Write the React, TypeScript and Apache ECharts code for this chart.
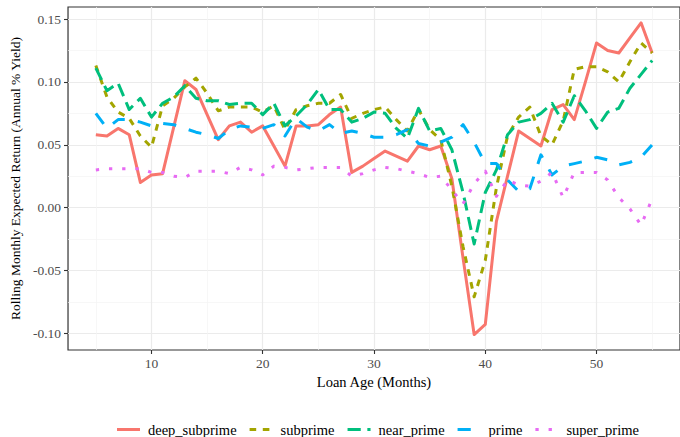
import React, { useEffect, useRef } from 'react';
import * as echarts from 'echarts';

const months = [5, 6, 7, 8, 9, 10, 11, 12, 13, 14, 15, 16, 17, 18, 19, 20, 21, 22, 23, 24, 25, 26, 27, 28, 29, 30, 31, 32, 33, 34, 35, 36, 37, 38, 39, 40, 41, 42, 43, 44, 45, 46, 47, 48, 49, 50, 51, 52, 53, 54, 55];

const deepSubprime = [0.058, 0.057, 0.063, 0.058, 0.020, 0.026, 0.027, 0.064, 0.101, 0.094, 0.074, 0.054, 0.065, 0.068, 0.060, 0.065, 0.049, 0.033, 0.065, 0.065, 0.066, 0.074, 0.080, 0.028, 0.033, 0.039, 0.045, 0.041, 0.037, 0.049, 0.046, 0.049, 0.023, -0.040, -0.101, -0.093, -0.011, 0.025, 0.061, 0.055, 0.049, 0.078, 0.082, 0.070, 0.100, 0.131, 0.125, 0.123, 0.135, 0.147, 0.123];

const subprime = [0.113, 0.088, 0.076, 0.071, 0.057, 0.048, 0.081, 0.087, 0.096, 0.103, 0.091, 0.077, 0.080, 0.080, 0.080, 0.076, 0.081, 0.062, 0.078, 0.081, 0.083, 0.083, 0.090, 0.071, 0.075, 0.078, 0.080, 0.070, 0.061, 0.078, 0.062, 0.054, 0.017, -0.031, -0.071, -0.042, 0.016, 0.057, 0.072, 0.080, 0.057, 0.050, 0.069, 0.110, 0.112, 0.112, 0.108, 0.100, 0.116, 0.131, 0.123];

const nearPrime = [0.111, 0.093, 0.099, 0.078, 0.087, 0.072, 0.083, 0.088, 0.097, 0.087, 0.085, 0.085, 0.082, 0.083, 0.083, 0.074, 0.083, 0.065, 0.073, 0.082, 0.094, 0.078, 0.078, 0.068, 0.071, 0.076, 0.075, 0.063, 0.055, 0.079, 0.061, 0.063, 0.046, 0.012, -0.029, 0.012, 0.030, 0.058, 0.068, 0.070, 0.075, 0.083, 0.068, 0.089, 0.077, 0.063, 0.076, 0.079, 0.095, 0.106, 0.117];

const prime = [0.075, 0.063, 0.070, 0.070, 0.068, 0.065, 0.067, 0.066, 0.063, 0.060, 0.058, 0.055, 0.062, 0.065, 0.064, 0.063, 0.066, 0.057, 0.071, 0.064, 0.061, 0.066, 0.059, 0.061, 0.059, 0.056, 0.056, 0.058, 0.062, 0.051, 0.049, 0.052, 0.056, 0.066, 0.052, 0.035, 0.035, 0.022, 0.013, 0.015, 0.042, 0.026, 0.033, 0.035, 0.037, 0.040, 0.038, 0.034, 0.036, 0.040, 0.050];

const superPrime = [0.030, 0.031, 0.031, 0.031, 0.031, 0.028, 0.028, 0.025, 0.024, 0.029, 0.029, 0.029, 0.027, 0.032, 0.030, 0.026, 0.033, 0.032, 0.030, 0.031, 0.032, 0.032, 0.032, 0.025, 0.027, 0.030, 0.032, 0.031, 0.029, 0.027, 0.024, 0.025, 0.014, 0.003, 0.019, 0.029, 0.009, 0.022, 0.018, 0.017, 0.021, 0.028, 0.008, 0.028, 0.028, 0.028, 0.022, 0.008, -0.001, -0.014, 0.007];

const seriesNames = ['deep_subprime', 'subprime', 'near_prime', 'prime', 'super_prime'];
const seriesValues = [deepSubprime, subprime, nearPrime, prime, superPrime];
const seriesColors = ['#F8766D', '#A3A500', '#00BF7D', '#00B0F6', '#E76BF3'];

const xMajorTicks = [10, 20, 30, 40, 50];
const xMinorTicks = [5, 15, 25, 35, 45, 55];
const yMajorTicks = [-0.1, -0.05, 0, 0.05, 0.1, 0.15];
const yMinorTicks = [-0.075, -0.025, 0.025, 0.075, 0.125];

const FONT = 'Liberation Serif';
const LW = 3;
const U = 3.3;
const dashTypes: any[] = ['solid', [2 * U, 2 * U], [4 * U, 2 * U], [4 * U, 4 * U], [1 * U, 3 * U]];
const legendIcons = [
  'path://M0,0H23V3H0Z',
  'path://M0,0H6.6V3H0Z M13.2,0H19.8V3H13.2Z M23,0L23,3',
  'path://M0,0H13.2V3H0Z M19.8,0H23V3H19.8Z',
  'path://M0,0H13.2V3H0Z M23,0L23,3',
  'path://M0,0H3.3V3H0Z M13.2,0H16.5V3H13.2Z M23,0L23,3',
];

export default function App() {
  const ref = useRef<HTMLDivElement>(null);
  useEffect(() => {
    if (!ref.current) return;
    const chart = echarts.init(ref.current, undefined, { renderer: 'svg' });
    const series = seriesNames.map((name, i) => ({
      type: 'line',
      name,
      data: months.map((m, j) => [m, seriesValues[i][j]]),
      xAxisIndex: 0,
      yAxisIndex: 0,
      showSymbol: false,
      symbol: 'none',
      itemStyle: { color: seriesColors[i] },
      lineStyle: { color: seriesColors[i], width: LW, type: dashTypes[i], cap: 'butt', join: 'round' },
      z: 3 + i,
    }));
    const tickLabel = { fontFamily: FONT, fontSize: 13.5, fontWeight: 'normal', color: '#4d4d4d' };
    chart.setOption({
      animation: false,
      backgroundColor: '#ffffff',
      textStyle: { fontFamily: FONT },
      grid: {
        left: 64,
        top: 7,
        width: 619,
        height: 343,
        show: true,
        borderColor: '#333333',
        borderWidth: 1.2,
        backgroundColor: 'transparent',
        containLabel: false,
      },
      legend: {
        data: seriesNames.map((n, i) => ({ name: n, icon: legendIcons[i] })),
        left: 112,
        top: 417,
        itemWidth: 23,
        itemHeight: 3,
        itemGap: 13,
        itemStyle: { borderWidth: 0 },
        textStyle: { fontFamily: FONT, fontSize: 14.5, color: '#000000', padding: [0, 0, 0, 3] },
        selectedMode: false,
      },
      xAxis: [
        {
          type: 'value',
          min: 2.5,
          max: 57.5,
          position: 'bottom',
          name: 'Loan Age (Months)',
          nameLocation: 'middle',
          nameGap: 22,
          nameTextStyle: { fontFamily: FONT, fontSize: 14.5, color: '#000000' },
          axisLine: { show: false, onZero: false },
          axisTick: { show: true, customValues: xMajorTicks, length: 4, lineStyle: { color: '#333333', width: 1.1 } },
          axisLabel: { customValues: xMajorTicks, margin: 6, ...tickLabel, formatter: (v: number) => String(v) },
          splitLine: { show: true, lineStyle: { color: '#ebebeb', width: 1.2 } },
        },
        {
          type: 'value',
          min: 2.5,
          max: 57.5,
          position: 'bottom',
          axisLine: { show: false, onZero: false },
          axisTick: { show: false, customValues: xMinorTicks },
          axisLabel: { show: false },
          splitLine: { show: true, lineStyle: { color: '#f3f3f3', width: 0.7 } },
        },
      ],
      yAxis: [
        {
          type: 'value',
          min: -0.1133,
          max: 0.1596,
          position: 'left',
          name: 'Rolling Monthly Expected Return (Annual % Yield)',
          nameLocation: 'middle',
          nameGap: 44,
          nameTextStyle: { fontFamily: FONT, fontSize: 13.5, fontWeight: 'normal', color: '#000000' },
          axisLine: { show: false, onZero: false },
          axisTick: { show: true, customValues: yMajorTicks, length: 4, lineStyle: { color: '#333333', width: 1.1 } },
          axisLabel: { customValues: yMajorTicks, margin: 7, ...tickLabel, formatter: (v: number) => v.toFixed(2) },
          splitLine: { show: true, lineStyle: { color: '#ebebeb', width: 1.2 } },
        },
        {
          type: 'value',
          min: -0.1133,
          max: 0.1596,
          position: 'left',
          axisLine: { show: false, onZero: false },
          axisTick: { show: false, customValues: yMinorTicks },
          axisLabel: { show: false },
          splitLine: { show: true, lineStyle: { color: '#f3f3f3', width: 0.7 } },
        },
      ],
      series,
    });
    return () => chart.dispose();
  }, []);
  return <div ref={ref} style={{ position: 'fixed', left: 0, top: 0, width: 680, height: 437 }} />;
}
